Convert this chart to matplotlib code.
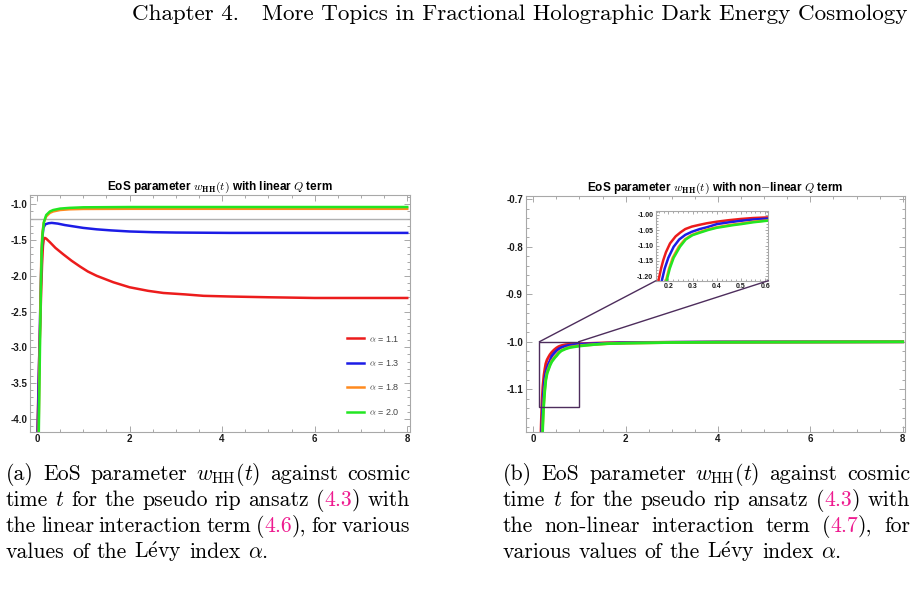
import matplotlib
matplotlib.use("Agg")
import matplotlib.pyplot as plt
from matplotlib.patches import Rectangle, ConnectionPatch
from matplotlib.ticker import MultipleLocator, FormatStrFormatter

plt.rcParams["mathtext.fontset"] = "cm"
plt.rcParams["font.family"] = ["Liberation Sans", "DejaVu Sans"]
plt.rcParams["font.weight"] = "bold"

W, H = 916, 590
SERIF = ["cmr10", "DejaVu Serif"]
PINK = "#ee1a8f"

alphas = ["1.1", "1.3", "1.8", "2.0"]
colors = ["#ec1c1c", "#1c1ce6", "#ff8a1e", "#22e622"]

# (a) linear Q term
lin_t = [
    [0.01, 0.035, 0.055, 0.075, 0.09, 0.11, 0.13, 0.15, 0.17, 0.2, 0.28, 0.4, 0.57, 0.75,
     0.93, 1.1, 1.29, 1.65, 2.0, 2.4, 2.73, 3.2, 3.6, 4.2, 5.0, 6.0, 7.0, 8.0],
    [0.015, 0.04, 0.06, 0.08, 0.10, 0.12, 0.14, 0.18, 0.25, 0.32, 0.45, 0.6, 0.8, 1.0,
     1.29, 1.6, 2.0, 2.5, 3.0, 4.17, 6.0, 8.0],
    [0.035, 0.05, 0.065, 0.08, 0.095, 0.115, 0.145, 0.2, 0.28, 0.35, 0.5, 0.7, 1.0, 2.0, 8.0],
    [0.04, 0.055, 0.07, 0.085, 0.10, 0.12, 0.15, 0.2, 0.28, 0.35, 0.5, 0.7, 1.0, 2.0, 8.0],
]
lin_w = [
    [-4.2, -3.5, -3.0, -2.6, -2.25, -1.85, -1.58, -1.48, -1.47, -1.48, -1.53, -1.61, -1.70, -1.79,
     -1.87, -1.94, -2.00, -2.09, -2.16, -2.21, -2.24, -2.26, -2.28, -2.29, -2.30, -2.31, -2.31, -2.31],
    [-4.2, -3.4, -2.8, -2.2, -1.7, -1.45, -1.33, -1.28, -1.265, -1.26, -1.27, -1.29, -1.31, -1.33,
     -1.35, -1.365, -1.38, -1.39, -1.395, -1.40, -1.40, -1.40],
    [-4.2, -3.5, -2.8, -2.2, -1.70, -1.42, -1.26, -1.17, -1.12, -1.10, -1.08, -1.07, -1.065, -1.063, -1.063],
    [-4.2, -3.5, -2.8, -2.2, -1.70, -1.42, -1.25, -1.15, -1.10, -1.08, -1.06, -1.05, -1.042, -1.038, -1.038],
]
lin_ref = -1.2

# (b) non-linear Q term
nl_t = [
    [0.150, 0.159, 0.170, 0.179, 0.190, 0.207, 0.230, 0.250, 0.270, 0.297, 0.330, 0.360, 0.400,
     0.450, 0.500, 0.550, 0.607, 0.700, 0.800, 1.0, 1.3, 1.6, 2.0, 3.0, 4.0, 8.0],
    [0.165, 0.173, 0.185, 0.200, 0.222, 0.245, 0.270, 0.297, 0.330, 0.360, 0.400, 0.450, 0.500,
     0.550, 0.607, 0.700, 0.800, 1.0, 1.3, 1.6, 2.0, 3.0, 4.0, 8.0],
    [0.183, 0.190, 0.203, 0.218, 0.243, 0.268, 0.295, 0.325, 0.360, 0.400, 0.460, 0.500, 0.550,
     0.607, 0.700, 0.800, 1.0, 1.3, 1.6, 2.0, 3.0, 4.0, 8.0],
    [0.186, 0.193, 0.206, 0.222, 0.248, 0.272, 0.300, 0.330, 0.365, 0.400, 0.470, 0.500, 0.550,
     0.607, 0.700, 0.800, 1.0, 1.3, 1.6, 2.0, 3.0, 4.0, 8.0],
]
nl_w = [
    [-1.26, -1.215, -1.175, -1.148, -1.122, -1.093, -1.070, -1.057, -1.046, -1.038, -1.032, -1.027,
     -1.022, -1.017, -1.013, -1.010, -1.008, -1.006, -1.005, -1.004, -1.003, -1.002, -1.0015,
     -1.001, -1.0005, -1.0],
    [-1.25, -1.215, -1.175, -1.140, -1.104, -1.080, -1.065, -1.055, -1.046, -1.040, -1.030, -1.024,
     -1.019, -1.015, -1.012, -1.009, -1.007, -1.005, -1.004, -1.003, -1.002, -1.001, -1.0005, -1.0],
    [-1.25, -1.215, -1.175, -1.140, -1.104, -1.080, -1.066, -1.057, -1.048, -1.040, -1.032, -1.028,
     -1.022, -1.018, -1.014, -1.011, -1.008, -1.006, -1.004, -1.003, -1.0015, -1.001, -1.0],
    [-1.25, -1.215, -1.175, -1.140, -1.104, -1.080, -1.066, -1.058, -1.049, -1.042, -1.033, -1.030,
     -1.024, -1.019, -1.015, -1.012, -1.009, -1.006, -1.004, -1.003, -1.0015, -1.001, -1.0],
]
zoom_box = (0.13, 0.98, -1.138, -1.0)

fig = plt.figure(figsize=(W / 100, H / 100), dpi=100)


def px_axes(x0, y0, x1, y1):
    return fig.add_axes([x0 / W, 1 - y1 / H, (x1 - x0) / W, (y1 - y0) / H])


def style(ax, xmaj, xmin, ymaj, ymin, xfmt, yfmt, fs, tl=4):
    for s in ax.spines.values():
        s.set_color("#a8a8a8")
        s.set_linewidth(0.8)
    ax.xaxis.set_major_locator(MultipleLocator(xmaj))
    ax.xaxis.set_minor_locator(MultipleLocator(xmin))
    ax.yaxis.set_major_locator(MultipleLocator(ymaj))
    ax.yaxis.set_minor_locator(MultipleLocator(ymin))
    ax.xaxis.set_major_formatter(FormatStrFormatter(xfmt))
    ax.yaxis.set_major_formatter(FormatStrFormatter(yfmt))
    ax.tick_params(which="both", direction="in", top=True, right=True, color="#a8a8a8",
                   labelsize=fs, labelcolor="#1a1a1a", pad=2, width=0.7)
    ax.tick_params(which="major", length=tl)
    ax.tick_params(which="minor", length=tl / 2)


title_kw = dict(fontsize=8.5, fontweight="bold", pad=3)

# ---- left panel
ax1 = px_axes(30, 195, 410, 431.7)
ax1.axhline(lin_ref, color="#b0b0b0", lw=1.0, zorder=1)
for t, w, a, c in zip(lin_t, lin_w, alphas, colors):
    ax1.plot(t, w, color=c, lw=1.8, label=rf"$\alpha$ = {a}", zorder=2)
ax1.set_xlim(-0.15, 8.06)
ax1.set_ylim(-4.18, -0.87)
style(ax1, 2, 0.5, 0.5, 0.1, "%d", "%.1f", 7)
ax1.set_title(r"EoS parameter $w_{\mathbf{HH}}(t)$ with linear $Q$ term", **title_kw)
leg = ax1.legend(loc="upper left", bbox_to_anchor=(342 / W, 1 - 329 / H),
                 bbox_transform=fig.transFigure, frameon=False, fontsize=6.5,
                 handlelength=1.9, handletextpad=0.6, labelspacing=1.6, borderpad=0)
for txt in leg.get_texts():
    txt.set_color("#444444")
    txt.set_fontweight("normal")

# ---- right panel
ax2 = px_axes(525.7, 195.7, 905, 431.7)
for t, w, c in zip(nl_t, nl_w, colors):
    ax2.plot(t, w, color=c, lw=2.0, zorder=2)
ax2.set_xlim(-0.165, 8.05)
ax2.set_ylim(-1.189, -0.693)
style(ax2, 2, 0.5, 0.1, 0.02, "%d", "%.1f", 7)
ax2.set_title(r"EoS parameter $w_{\mathbf{HH}}(t)$ with non$-$linear $Q$ term", **title_kw)
x0, x1, y0, y1 = zoom_box
ax2.add_patch(Rectangle((x0, y0), x1 - x0, y1 - y0, fill=False, ec="#4d2d5c", lw=1.0, zorder=3))

axin = px_axes(656, 211, 768.3, 280.7)
for t, w, c in zip(nl_t, nl_w, colors):
    axin.plot(t, w, color=c, lw=1.8)
axin.set_xlim(0.149, 0.613)
axin.set_ylim(-1.215, -0.987)
style(axin, 0.1, 0.02, 0.05, 0.01, "%.1f", "%.2f", 5, tl=2.5)

for xd, xa in ((x0, 0), (x1, 1)):
    con = ConnectionPatch(xyA=(xd, y1), coordsA=ax2.transData, xyB=(xa, 0), coordsB=axin.transAxes,
                          color="#4d2d5c", lw=1.0)
    fig.add_artist(con)

# ---- page text
renderer = fig.canvas.get_renderer()


def measure(s, fs):
    t = fig.text(0, 0, s, fontsize=fs, family=SERIF, fontweight="normal")
    w = t.get_window_extent(renderer).width
    t.remove()
    return w


def place_words(words, x0, y, fs, x1=None):
    items = []
    for word in words:
        if isinstance(word, str):
            word = [(word, "black")]
        segs = []
        for s, c in word:
            t = fig.text(0, 0, s, color=c, fontsize=fs, family=SERIF, fontweight="normal",
                         va="baseline", ha="left")
            segs.append((t, t.get_window_extent(renderer).width))
        items.append(segs)
    widths = [sum(w for _, w in segs) for segs in items]
    if x1 is None:
        gap = measure("a a", fs) - measure("aa", fs)
    else:
        gap = (x1 - x0 - sum(widths)) / (len(items) - 1)
    x = x0
    for segs in items:
        for t, w in segs:
            t.set_position((x / W, 1 - y / H))
            x += w
        x += gap


header = "Chapter 4.   More Topics in Fractional Holographic Dark Energy Cosmology"
hfs = 10 * 778 / measure(header, 10)
fig.text(908 / W, 1 - 20 / H, header, fontsize=hfs, family=SERIF, fontweight="normal",
         ha="right", va="baseline")

levy = r"$\mathrm{L\acute{e}vy}$"
cfs = 10 * 261 / measure("values of the " + levy + " index $\\alpha$.", 10)

ref = lambda pre, num, post: [(pre, "black"), (num, PINK), (post, "black")]
wHH = r"$w_{\mathrm{HH}}(t)$"
cap_a = [
    ["(a)", "EoS", "parameter", wHH, "against", "cosmic"],
    ["time", "$t$", "for", "the", "pseudo", "rip", "ansatz", ref("(", "4.3", ")"), "with"],
    ["the", "linear", "interaction", "term", ref("(", "4.6", "),"), "for", "various"],
    ["values", "of", "the", levy, "index", r"$\alpha$."],
]
cap_b = [
    ["(b)", "EoS", "parameter", wHH, "against", "cosmic"],
    ["time", "$t$", "for", "the", "pseudo", "rip", "ansatz", ref("(", "4.3", ")"), "with"],
    ["the", "non-linear", "interaction", "term", ref("(", "4.7", "),"), "for"],
    ["various", "values", "of", "the", levy, "index", r"$\alpha$."],
]
baselines = [480, 506, 532, 558]
for lines, xa, xb in ((cap_a, 6, 410), (cap_b, 503, 910)):
    for i, (words, yb) in enumerate(zip(lines, baselines)):
        place_words(words, xa, yb, cfs, x1=xb if i < len(lines) - 1 else None)

fig.savefig("out.png", dpi=100, facecolor="white")
